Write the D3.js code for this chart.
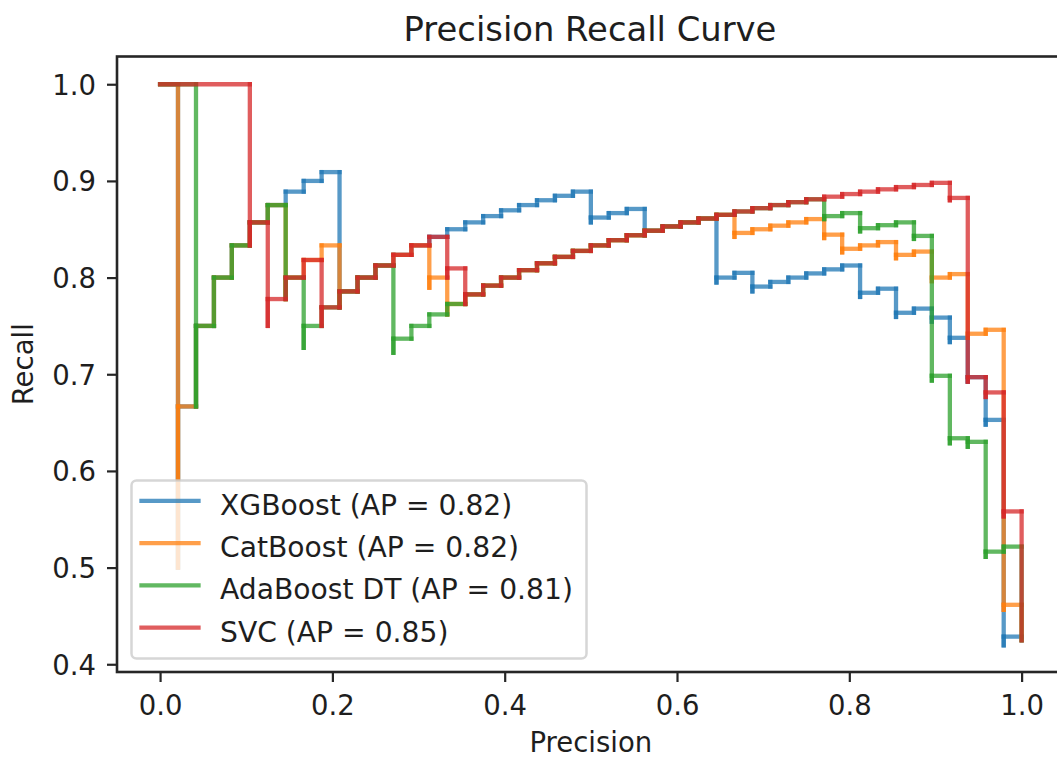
<!DOCTYPE html>
<html>
<head>
<meta charset="utf-8">
<script src="https://cdn.jsdelivr.net/npm/d3@7"></script>
<style>
  body { margin: 0; background: #fff; }
  text { font-family: "DejaVu Sans", sans-serif; fill: #1e1e1e; }
</style>
</head>
<body>
<svg id="chart" width="1057" height="758"></svg>
<script>
// Model names and their average precision scores
const modelNames = ["XGBoost", "CatBoost", "AdaBoost DT", "SVC"];
const apScores = [0.82, 0.82, 0.81, 0.85];
const modelColors = ["#1f77b4", "#ff7f0e", "#2ca02c", "#d62728"];

// Tick values
const xTickValues = [0.0, 0.2, 0.4, 0.6, 0.8, 1.0];
const yTickValues = [0.4, 0.5, 0.6, 0.7, 0.8, 0.9, 1.0];

// Curve vertices, left to right; each level holds up to its x (step-before)
const xgbPrecision = [0, 0.0208, 0.0208, 0.0417, 0.0625, 0.0833, 0.1042, 0.125, 0.1458, 0.1667, 0.1875, 0.2083, 0.2083, 0.2292, 0.25, 0.2708, 0.2917, 0.3125, 0.3333, 0.3542, 0.375, 0.3958, 0.4167, 0.4375, 0.4583, 0.4792, 0.5, 0.5, 0.5208, 0.5417, 0.5625, 0.5625, 0.5833, 0.6042, 0.625, 0.6458, 0.6458, 0.6667, 0.6875, 0.6875, 0.7083, 0.7292, 0.75, 0.7708, 0.7917, 0.8125, 0.8125, 0.8333, 0.8542, 0.8542, 0.875, 0.8958, 0.8958, 0.9167, 0.9167, 0.9375, 0.9375, 0.9583, 0.9583, 0.9792, 0.9792, 1.0, 1.0];
const xgbRecall = [1.0, 1.0, 0.5, 0.6667, 0.75, 0.8, 0.8333, 0.8571, 0.875, 0.8889, 0.9, 0.9091, 0.7692, 0.7857, 0.8, 0.8125, 0.8235, 0.8333, 0.8421, 0.85, 0.8571, 0.8636, 0.8696, 0.875, 0.88, 0.8846, 0.8889, 0.8571, 0.8621, 0.8667, 0.871, 0.8438, 0.8485, 0.8529, 0.8571, 0.8611, 0.7949, 0.8, 0.8049, 0.7857, 0.7907, 0.7955, 0.8, 0.8043, 0.8085, 0.8125, 0.78, 0.7843, 0.7885, 0.7593, 0.7636, 0.7679, 0.7544, 0.7586, 0.7333, 0.7377, 0.6923, 0.697, 0.6479, 0.6528, 0.4196, 0.4286, 0.4248];

const catPrecision = [0, 0.0208, 0.0208, 0.0417, 0.0625, 0.0833, 0.1042, 0.125, 0.1458, 0.1458, 0.1667, 0.1875, 0.2083, 0.2083, 0.2292, 0.25, 0.2708, 0.2917, 0.3125, 0.3125, 0.3333, 0.3333, 0.3542, 0.375, 0.3958, 0.4167, 0.4375, 0.4583, 0.4792, 0.5, 0.5208, 0.5417, 0.5625, 0.5833, 0.6042, 0.625, 0.6458, 0.6667, 0.6667, 0.6875, 0.7083, 0.7292, 0.75, 0.7708, 0.7708, 0.7917, 0.7917, 0.8125, 0.8333, 0.8542, 0.8542, 0.875, 0.8958, 0.8958, 0.9167, 0.9375, 0.9375, 0.9583, 0.9792, 0.9792, 1.0, 1.0];
const catRecall = [1.0, 1.0, 0.5, 0.6667, 0.75, 0.8, 0.8333, 0.8571, 0.875, 0.7778, 0.8, 0.8182, 0.8333, 0.7692, 0.7857, 0.8, 0.8125, 0.8235, 0.8333, 0.7895, 0.8, 0.7619, 0.7727, 0.7826, 0.7917, 0.8, 0.8077, 0.8148, 0.8214, 0.8276, 0.8333, 0.8387, 0.8438, 0.8485, 0.8529, 0.8571, 0.8611, 0.8649, 0.8421, 0.8462, 0.85, 0.8537, 0.8571, 0.8605, 0.8409, 0.8444, 0.8261, 0.8298, 0.8333, 0.8367, 0.82, 0.8235, 0.8269, 0.7963, 0.8, 0.8036, 0.7377, 0.7419, 0.746, 0.4563, 0.4615, 0.4248];

const adaPrecision = [0, 0.0417, 0.0417, 0.0625, 0.0833, 0.1042, 0.125, 0.1458, 0.1458, 0.1667, 0.1667, 0.1875, 0.2083, 0.2292, 0.25, 0.2708, 0.2708, 0.2917, 0.3125, 0.3333, 0.3542, 0.375, 0.3958, 0.4167, 0.4375, 0.4583, 0.4792, 0.5, 0.5208, 0.5417, 0.5625, 0.5833, 0.6042, 0.625, 0.6458, 0.6667, 0.6875, 0.7083, 0.7292, 0.75, 0.7708, 0.7708, 0.7917, 0.8125, 0.8125, 0.8333, 0.8542, 0.875, 0.875, 0.8958, 0.8958, 0.9167, 0.9167, 0.9375, 0.9375, 0.9583, 0.9583, 0.9792, 1.0, 1.0];
const adaRecall = [1.0, 1.0, 0.6667, 0.75, 0.8, 0.8333, 0.8571, 0.875, 0.7778, 0.8, 0.7273, 0.75, 0.7692, 0.7857, 0.8, 0.8125, 0.7222, 0.7368, 0.75, 0.7619, 0.7727, 0.7826, 0.7917, 0.8, 0.8077, 0.8148, 0.8214, 0.8276, 0.8333, 0.8387, 0.8438, 0.8485, 0.8529, 0.8571, 0.8611, 0.8649, 0.8684, 0.8718, 0.875, 0.878, 0.881, 0.8605, 0.8636, 0.8667, 0.8478, 0.8511, 0.8542, 0.8571, 0.84, 0.8431, 0.6935, 0.6984, 0.6286, 0.6338, 0.625, 0.6301, 0.5111, 0.5165, 0.5217, 0.4248];

const svcPrecision = [0, 0.1042, 0.1042, 0.125, 0.125, 0.1458, 0.1667, 0.1875, 0.1875, 0.2083, 0.2292, 0.25, 0.2708, 0.2917, 0.3125, 0.3333, 0.3333, 0.3542, 0.3542, 0.375, 0.3958, 0.4167, 0.4375, 0.4583, 0.4792, 0.5, 0.5208, 0.5417, 0.5625, 0.5833, 0.6042, 0.625, 0.6458, 0.6667, 0.6875, 0.7083, 0.7292, 0.75, 0.7708, 0.7917, 0.8125, 0.8333, 0.8542, 0.875, 0.8958, 0.9167, 0.9167, 0.9375, 0.9375, 0.9583, 0.9583, 0.9792, 0.9792, 1.0, 1.0];
const svcRecall = [1.0, 1.0, 0.8333, 0.8571, 0.75, 0.7778, 0.8, 0.8182, 0.75, 0.7692, 0.7857, 0.8, 0.8125, 0.8235, 0.8333, 0.8421, 0.8, 0.8095, 0.7727, 0.7826, 0.7917, 0.8, 0.8077, 0.8148, 0.8214, 0.8276, 0.8333, 0.8387, 0.8438, 0.8485, 0.8529, 0.8571, 0.8611, 0.8649, 0.8684, 0.8718, 0.875, 0.878, 0.881, 0.8837, 0.8864, 0.8889, 0.8913, 0.8936, 0.8958, 0.898, 0.88, 0.8824, 0.6923, 0.697, 0.6765, 0.6812, 0.5529, 0.5581, 0.4248];

const curves = [
  { precision: xgbPrecision, recall: xgbRecall },
  { precision: catPrecision, recall: catRecall },
  { precision: adaPrecision, recall: adaRecall },
  { precision: svcPrecision, recall: svcRecall }
];

const svg = d3.select("#chart");
const W = 1057, H = 758;
svg.append("rect").attr("width", W).attr("height", H).attr("fill", "#fff");

const plot = { left: 117, right: 1064.7, top: 56.5, bottom: 672 };
const x = d3.scaleLinear().domain([-0.05, 1.05]).range([plot.left, plot.right]);
const y = d3.scaleLinear().domain([0.392, 1.0287]).range([plot.bottom, plot.top]);

// Split a step-before curve into its horizontal and vertical pieces
function stepSegments(xs, ys) {
  const segs = [];
  for (let i = 0; i < xs.length - 1; i++) {
    if (ys[i] !== ys[i + 1]) segs.push([[xs[i], ys[i]], [xs[i], ys[i + 1]]]);
    if (xs[i] !== xs[i + 1]) segs.push([[xs[i], ys[i + 1]], [xs[i + 1], ys[i + 1]]]);
  }
  return segs;
}

const segLine = d3.line().x(d => x(d[0])).y(d => y(d[1]));
const lineWidth = 4.3;

const curveLayer = svg.append("g");
curves.forEach((c, i) => {
  curveLayer.append("g")
    .selectAll("path")
    .data(stepSegments(c.precision, c.recall))
    .join("path")
    .attr("d", segLine)
    .attr("fill", "none")
    .attr("stroke", modelColors[i])
    .attr("stroke-opacity", 0.75)
    .attr("stroke-width", lineWidth)
    .attr("stroke-linecap", "square");
});

// Frame
svg.append("rect")
  .attr("x", plot.left).attr("y", plot.top)
  .attr("width", plot.right - plot.left).attr("height", plot.bottom - plot.top)
  .attr("fill", "none").attr("stroke", "#262626").attr("stroke-width", 2.6);

// Axes
const fmt = d3.format(".1f");
const xAxis = svg.append("g")
  .attr("transform", `translate(0,${plot.bottom})`)
  .call(d3.axisBottom(x).tickValues(xTickValues).tickFormat(fmt).tickSize(10).tickSizeOuter(0));
xAxis.select(".domain").remove();
xAxis.selectAll(".tick line").attr("stroke", "#262626").attr("stroke-width", 2.2);
xAxis.selectAll(".tick text")
  .attr("y", 43).attr("dy", 0)
  .style("font-size", "27.5px").style("font-family", "DejaVu Sans, sans-serif").attr("fill", "#1e1e1e");

const yAxis = svg.append("g")
  .attr("transform", `translate(${plot.left},0)`)
  .call(d3.axisLeft(y).tickValues(yTickValues).tickFormat(fmt).tickSize(10).tickSizeOuter(0));
yAxis.select(".domain").remove();
yAxis.selectAll(".tick line").attr("stroke", "#262626").attr("stroke-width", 2.2);
yAxis.selectAll(".tick text")
  .attr("x", -21).attr("dy", "0.36em")
  .style("font-size", "27.5px").style("font-family", "DejaVu Sans, sans-serif").attr("fill", "#1e1e1e");

// Labels and title
svg.append("text")
  .attr("x", (plot.left + plot.right) / 2).attr("y", 752)
  .attr("text-anchor", "middle").style("font-size", "27.5px")
  .text("Precision");
svg.append("text")
  .attr("transform", `translate(33,${(plot.top + plot.bottom) / 2}) rotate(-90)`)
  .attr("text-anchor", "middle").style("font-size", "27.5px")
  .text("Recall");
svg.append("text")
  .attr("x", 590).attr("y", 41)
  .attr("text-anchor", "middle").style("font-size", "33.8px")
  .text("Precision Recall Curve");

// Legend
const legend = svg.append("g");
legend.append("rect")
  .attr("x", 131.5).attr("y", 480.5).attr("width", 455).attr("height", 178).attr("rx", 5)
  .attr("fill", "#fff").attr("fill-opacity", 0.8)
  .attr("stroke", "#cccccc").attr("stroke-opacity", 0.8).attr("stroke-width", 2.5);
modelNames.forEach((name, i) => {
  const ly = 500.8 + i * 42.3;
  legend.append("line")
    .attr("x1", 141.5).attr("x2", 198.5).attr("y1", ly).attr("y2", ly)
    .attr("stroke", modelColors[i]).attr("stroke-opacity", 0.75)
    .attr("stroke-width", lineWidth).attr("stroke-linecap", "square");
  legend.append("text")
    .attr("x", 220).attr("y", ly + 14)
    .style("font-size", "28.2px")
    .text(`${name} (AP = ${apScores[i].toFixed(2)})`);
});
</script>
</body>
</html>
